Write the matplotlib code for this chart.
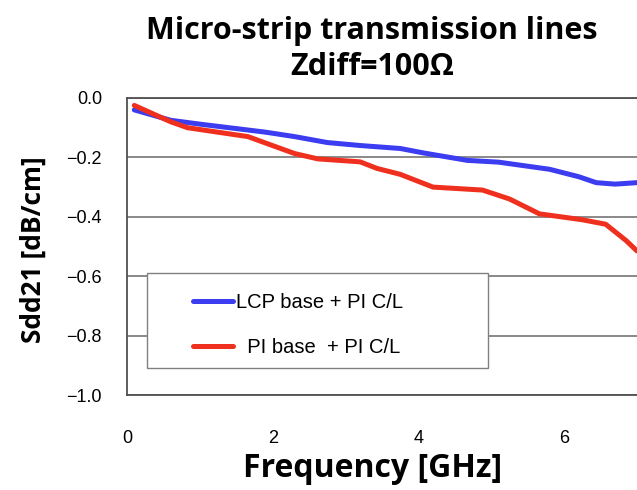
import matplotlib as mpl
from matplotlib import pyplot as plt
from matplotlib.patches import Rectangle

# values
freq_lcp = [0.1, 0.6, 1.0, 1.3, 1.9, 2.3, 2.75, 3.2, 3.75, 4.07, 4.67, 5.1, 5.8, 6.2, 6.44, 6.7, 7.0]
sdd_lcp = [-0.04, -0.075, -0.088, -0.097, -0.115, -0.13, -0.15, -0.16, -0.17, -0.185, -0.21,
           -0.216, -0.24, -0.265, -0.285, -0.29, -0.285]
freq_pi = [0.1, 0.6, 0.83, 1.3, 1.66, 1.94, 2.3, 2.62, 3.2, 3.43, 3.75, 4.2, 4.88, 5.25, 5.66,
           6.25, 6.57, 6.85, 7.0]
sdd_pi = [-0.025, -0.08, -0.10, -0.117, -0.13, -0.155, -0.187, -0.205, -0.215, -0.237, -0.257,
          -0.30, -0.31, -0.34, -0.39, -0.41, -0.425, -0.48, -0.515]
labels = ["LCP base + PI C/L", "  PI base  + PI C/L"]
yticks = [0.0, -0.2, -0.4, -0.6, -0.8, -1.0]
yticklabels = ["0.0", "\u22120.2", "\u22120.4", "\u22120.6", "\u22120.8", "\u22121.0"]
xticks = [0, 2, 4, 6]

mpl.rcParams['font.family'] = ['Liberation Sans', 'DejaVu Sans']
bold = ['Open Sans', 'DejaVu Sans']

fig = plt.figure(figsize=(6.37, 4.9), dpi=100)
ax = fig.add_axes([127 / 637, 1 - 395 / 490, 1 - 127 / 637, 297 / 490])

ax.plot(freq_lcp, sdd_lcp, color='#3c3cf0', lw=3.6, label=labels[0],
        solid_capstyle='round', zorder=3)
ax.plot(freq_pi, sdd_pi, color='#f0301e', lw=3.6, label=labels[1],
        solid_capstyle='round', zorder=3)

ax.set_xlim(0, 7.0)
ax.set_ylim(-1.0, 0.0)
ax.set_yticks(yticks)
ax.set_yticklabels(yticklabels)
ax.set_xticks(xticks)
ax.tick_params(length=0, labelsize=13)
ax.tick_params(axis='y', pad=18)
ax.tick_params(axis='x', pad=25)
ax.yaxis.grid(True, color='#808080', lw=1.3)
ax.set_axisbelow(True)

for s in ['top', 'bottom', 'left']:
    ax.spines[s].set_color('#505050')
    ax.spines[s].set_linewidth(1.3)
ax.spines['right'].set_visible(False)

# legend frame drawn separately so the entries can sit well inside it
ax.add_patch(Rectangle((0.039, 0.091), 0.669, 0.32, transform=ax.transAxes,
                       facecolor='white', edgecolor='#808080', lw=1.0, zorder=2.5))
leg = ax.legend(loc='center left', bbox_to_anchor=(0.129, 0.236), frameon=False,
                borderaxespad=0, borderpad=0, fontsize=14.5, handlelength=2.0,
                handletextpad=0.15, labelspacing=1.3)
leg.set_zorder(4)

ax.set_ylabel("Sdd21 [dB/cm]", family=bold, fontweight='bold', fontsize=19, va='center')
ax.yaxis.set_label_coords(-0.184, 0.488)
ax.set_xlabel("Frequency [GHz]", family=bold, fontweight='bold', fontsize=23, va='center')
ax.xaxis.set_label_coords(0.482, -0.246)
fig.text(372 / 637, 1 - 49 / 490, "Micro-strip transmission lines\nZdiff=100\u03a9",
         family=bold, fontweight='bold', fontsize=22, ha='center', va='center',
         linespacing=1.3)

fig.savefig("out.png", dpi=100)
